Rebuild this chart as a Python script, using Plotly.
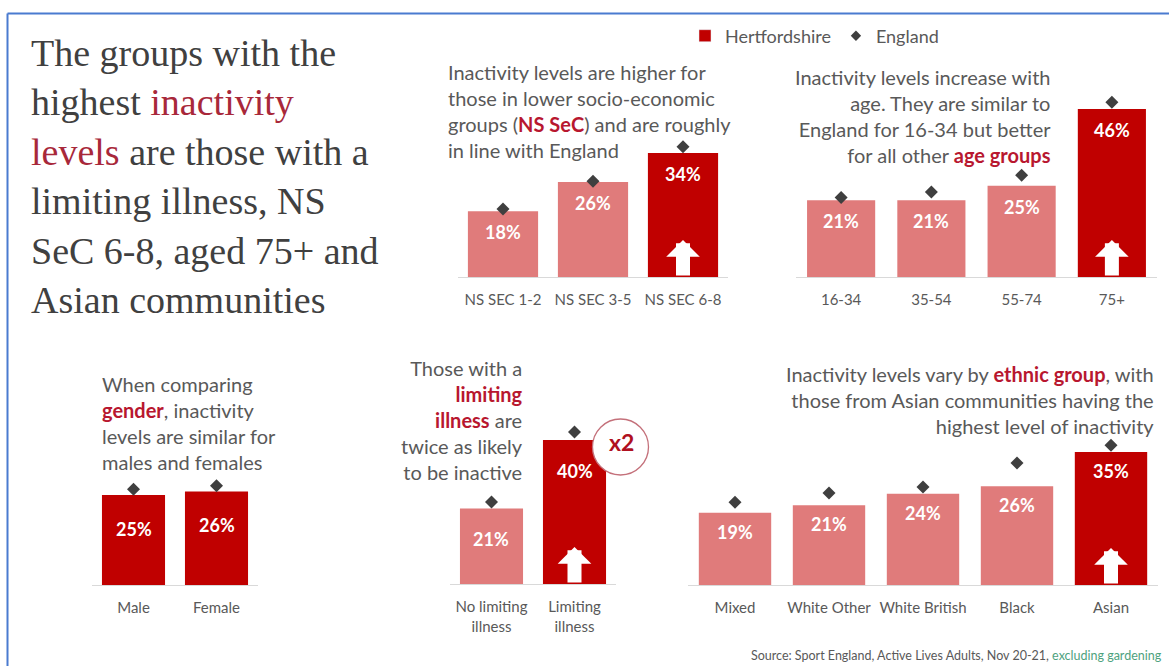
import plotly.graph_objects as go

W, H = 1169, 666

# ---------------- data ----------------
nssec_cats = ["NS SEC 1-2", "NS SEC 3-5", "NS SEC 6-8"]
nssec_herts = [18, 26, 34]
nssec_eng = [18.6, 26.2, 35.7]

age_cats = ["16-34", "35-54", "55-74", "75+"]
age_herts = [21, 21, 25, 46]
age_eng = [21.8, 23.3, 27.9, 47.9]

gender_cats = ["Male", "Female"]
gender_herts = [25, 26]
gender_eng = [26.6, 27.6]

illness_cats = ["No limiting<br>illness", "Limiting<br>illness"]
illness_herts = [21, 40]
illness_eng = [22.8, 42.2]

ethnic_cats = ["Mixed", "White Other", "White British", "Black", "Asian"]
ethnic_herts = [19, 21, 24, 26, 35]
ethnic_eng = [21.8, 24.2, 25.8, 32.1, 36.8]

highlighted = ["NS SEC 6-8", "75+", "Male", "Female", "Limiting<br>illness", "Asian"]
arrowed = ["NS SEC 6-8", "75+", "Limiting<br>illness", "Asian"]

# ---------------- style ----------------
DARK = "#C00000"
LIGHT = "#E07B7B"
DIAM = "#3F3F3F"
GREY = "#595959"
RED_TXT = "#B8172F"
TITLE_RED = "#A8283A"
FONT = "Lato"


def fx(x):
    return x / W


def fy(y):
    return 1 - y / H


panels = [
    dict(id="", cats=nssec_cats, herts=nssec_herts, eng=nssec_eng,
         xd=(458, 728), base=277, top=100, scale=3.65, width=0.78, loff=21),
    dict(id="2", cats=age_cats, herts=age_herts, eng=age_eng,
         xd=(796, 1157), base=277, top=90, scale=3.65, width=0.755, loff=21),
    dict(id="3", cats=gender_cats, herts=gender_herts, eng=gender_eng,
         xd=(92, 258), base=585, top=470, scale=3.6, width=0.76, loff=34),
    dict(id="4", cats=illness_cats, herts=illness_herts, eng=illness_eng,
         xd=(450, 616), base=584, top=420, scale=3.6, width=0.76, loff=31),
    dict(id="5", cats=ethnic_cats, herts=ethnic_herts, eng=ethnic_eng,
         xd=(688, 1158), base=585, top=430, scale=3.8, width=0.77, loff=19),
]

fig = go.Figure()
annotations = []
layout_axes = {}

for p in panels:
    xa, ya = "x" + p["id"], "y" + p["id"]
    colors = [DARK if c in highlighted else LIGHT for c in p["cats"]]
    fig.add_trace(go.Bar(
        x=p["cats"], y=p["herts"], xaxis=xa, yaxis=ya,
        marker=dict(color=colors, line=dict(width=0)),
        width=p["width"], showlegend=False, hoverinfo="skip"))
    fig.add_trace(go.Scatter(
        x=p["cats"], y=p["eng"], xaxis=xa, yaxis=ya, mode="markers",
        marker=dict(symbol="diamond", size=10, color=DIAM),
        cliponaxis=False, showlegend=False, hoverinfo="skip"))
    ymax = (p["base"] - p["top"]) / p["scale"]
    n = len(p["cats"])
    layout_axes["xaxis" + p["id"]] = dict(
        domain=[fx(p["xd"][0]), fx(p["xd"][1])], anchor=ya, type="category",
        range=[-0.5, n - 0.5], autorange=False, tickangle=0,
        showline=True, linecolor="#D9D9D9", linewidth=1, showgrid=False,
        zeroline=False, ticks="outside", ticklen=9, tickcolor="rgba(0,0,0,0)",
        tickfont=dict(family=FONT, size=15, color=GREY), fixedrange=True)
    layout_axes["yaxis" + p["id"]] = dict(
        domain=[fy(p["base"]), fy(p["top"])], anchor=xa, range=[0, ymax],
        autorange=False, visible=False, fixedrange=True)
    for c, v in zip(p["cats"], p["herts"]):
        annotations.append(dict(
            x=c, y=v, xref=xa, yref=ya, yshift=-p["loff"], showarrow=False,
            text=f"<b>{v}%</b>", font=dict(family=FONT, size=18, color="white"),
            xanchor="center", yanchor="middle"))
        if c in arrowed:
            annotations.append(dict(
                x=c, y=0, xref=xa, yref=ya, yshift=37, text="", showarrow=True,
                ax=0, ay=37, arrowhead=1, arrowsize=0.4, arrowwidth=14,
                arrowcolor="white", standoff=0, startstandoff=0))

# legend traces
fig.add_trace(go.Bar(x=[nssec_cats[0]], y=[None], name="Hertfordshire",
                     marker_color=DARK, xaxis="x", yaxis="y"))
fig.add_trace(go.Scatter(x=[nssec_cats[0]], y=[None], name="England", mode="markers",
                         marker=dict(symbol="diamond", size=8, color=DIAM),
                         xaxis="x", yaxis="y"))

# "x2" badge next to the limiting-illness bar (position derived from the panel geometry)
ill = panels[3]
i_lim = ill["cats"].index(illness_cats[1])
bar_cx = ill["xd"][0] + (i_lim + 0.5) * (ill["xd"][1] - ill["xd"][0]) / len(ill["cats"])
bar_top = ill["base"] - ill["herts"][i_lim] * ill["scale"]
cx, cy, rad = bar_cx + 46, bar_top + 7, 28

shapes = [
    dict(type="circle", xref="paper", yref="paper",
         x0=fx(cx - rad), x1=fx(cx + rad), y0=fy(cy + rad), y1=fy(cy - rad),
         fillcolor="white", line=dict(color="#C4707A", width=1.3), layer="above"),
    dict(type="line", xref="paper", yref="paper", x0=fx(7.5), x1=1, y0=fy(13.5), y1=fy(13.5),
         line=dict(color="#4A7BD0", width=2)),
    dict(type="line", xref="paper", yref="paper", x0=fx(7.5), x1=fx(7.5), y0=0, y1=fy(13.5),
         line=dict(color="#4A7BD0", width=2)),
]
annotations.append(dict(
    x=fx(cx + 1), y=fy(cy - 5), xref="paper", yref="paper", xanchor="center", yanchor="middle",
    text="<b>x2</b>", showarrow=False, font=dict(family=FONT, size=23, color="#B0101F")))

# title
r = lambda s: f"<span style='color:{TITLE_RED}'>{s}</span>"
title_text = ("The groups with the<br>highest " + r("inactivity") + "<br>" + r("levels") +
              " are those with a<br>limiting illness, NS<br>SeC 6-8, aged 75+ and<br>Asian communities")
annotations.append(dict(
    x=fx(29), y=fy(177), xref="paper", yref="paper", xanchor="left", yanchor="middle",
    align="left", showarrow=False, text=title_text,
    font=dict(family="Liberation Serif", size=38, color="#404040")))

h = lambda s: f"<b><span style='color:{RED_TXT}'>{s}</span></b>"
paras = [
    ("Inactivity levels are higher for<br>those in lower socio-economic<br>groups (" + h("NS SeC") +
     ") and are roughly<br>in line with England", 446, 111, "left"),
    ("Inactivity levels increase with<br>age. They are similar to<br>England for 16-34 but better<br>for all other "
     + h("age groups"), 1053, 116, "right"),
    ("When comparing<br>" + h("gender") + ", inactivity<br>levels are similar for<br>males and females",
     100, 423, "left"),
    ("Those with a<br>" + h("limiting") + "<br>" + h("illness") + " are<br>twice as likely<br>to be inactive",
     525, 420, "right"),
    ("Inactivity levels vary by " + h("ethnic group") + ", with<br>those from Asian communities having the<br>highest level of inactivity",
     1156, 400, "right"),
]
for text, x, y, al in paras:
    annotations.append(dict(
        x=fx(x), y=fy(y), xref="paper", yref="paper", xanchor=al, yanchor="middle",
        align=al, showarrow=False, text=text,
        font=dict(family=FONT, size=20, color=GREY)))

annotations.append(dict(
    x=fx(1164), y=fy(655), xref="paper", yref="paper", xanchor="right", yanchor="middle",
    showarrow=False,
    text="Source: Sport England, Active Lives Adults, Nov 20-21, <span style='color:#4EA27E'>excluding gardening</span>",
    font=dict(family=FONT, size=12.5, color=GREY)))

fig.update_layout(
    width=W, height=H, margin=dict(l=0, r=0, t=0, b=0),
    paper_bgcolor="white", plot_bgcolor="white", barmode="overlay",
    showlegend=True,
    legend=dict(orientation="h", x=fx(685), y=fy(36), xanchor="left", yanchor="middle",
                font=dict(family=FONT, size=18, color=GREY), bgcolor="rgba(0,0,0,0)",
                itemwidth=30),
    annotations=annotations, shapes=shapes, **layout_axes)

fig.write_html("out.html")
